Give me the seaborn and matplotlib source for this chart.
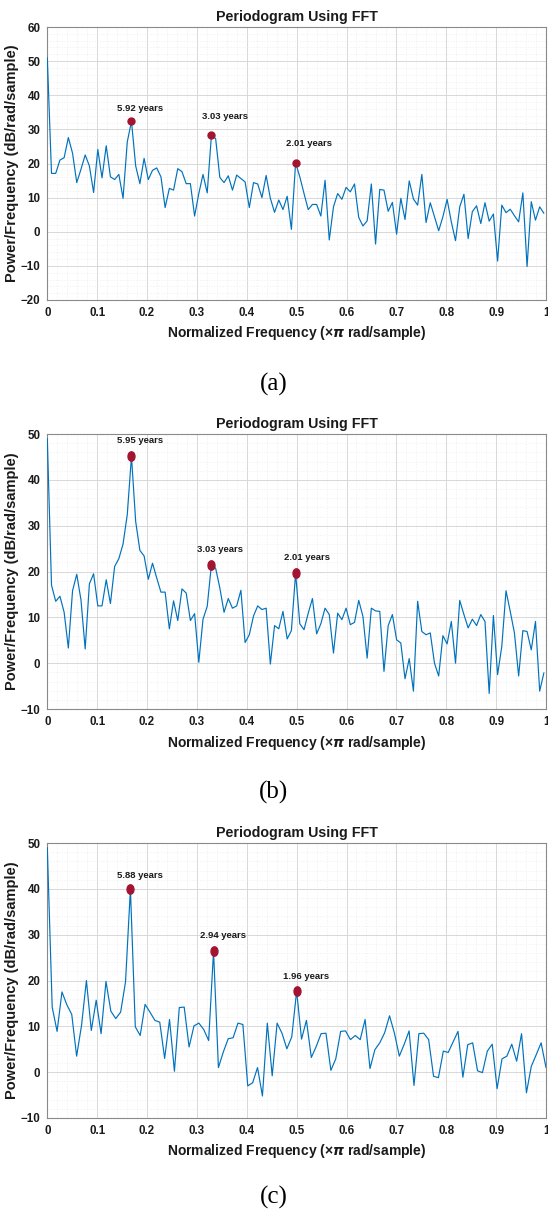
import numpy as np
import pandas as pd
import matplotlib
matplotlib.use("Agg")
import matplotlib.pyplot as plt
from matplotlib.markers import MarkerStyle
from matplotlib.transforms import Affine2D
from matplotlib.ticker import AutoMinorLocator, MultipleLocator
import seaborn as sns

# ---- periodogram data (dB/rad/sample) ----
psd_a = [51.0, 17.1, 17.1, 21.0, 21.7, 27.6, 23.0, 14.4, 18.3, 22.5,
         19.3, 11.5, 24.1, 15.8, 25.2, 16.1, 15.3, 16.8, 9.8, 26.3,
         32.4, 19.3, 14.1, 21.5, 15.3, 18.0, 18.7, 16.1, 7.1, 12.7,
         12.2, 18.5, 17.6, 14.1, 14.1, 4.6, 11.2, 16.8, 11.4, 28.3,
         27.3, 15.9, 14.4, 16.4, 12.2, 16.6, 15.6, 14.6, 7.1, 14.4,
         14.0, 10.0, 16.5, 9.8, 5.7, 9.3, 6.5, 10.4, 0.7, 20.2,
         16.1, 11.2, 6.5, 8.0, 8.0, 4.6, 15.1, -2.4, 7.3, 11.2,
         9.5, 13.0, 11.7, 14.0, 4.2, 1.7, 3.2, 14.0, -3.6, 12.4,
         12.2, 6.0, 8.6, -0.7, 9.8, 3.6, 14.9, 9.6, 7.8, 16.8,
         2.7, 8.5, 4.4, 0.3, 4.4, 9.5, 2.9, -2.6, 7.3, 11.0,
         -2.0, 5.9, 7.6, 2.4, 8.5, 3.1, 5.2, -8.6, 7.8, 5.6,
         6.6, 4.7, 2.9, 11.4, -10.2, 8.8, 3.4, 7.3, 5.4]

psd_b = [49.0, 17.0, 13.5, 14.6, 11.1, 3.3, 15.8, 19.4, 13.8, 3.1,
         17.3, 19.5, 12.5, 12.5, 18.2, 13.0, 21.1, 22.8, 26.0, 32.4,
         45.1, 30.9, 24.6, 23.4, 18.3, 21.8, 18.6, 15.5, 15.5, 7.5,
         13.6, 9.3, 16.2, 15.3, 9.3, 10.8, 0.2, 9.6, 12.4, 21.5,
         20.7, 16.4, 11.1, 14.1, 12.0, 12.5, 15.9, 4.5, 6.2, 10.3,
         12.5, 11.7, 12.0, -0.2, 8.2, 7.5, 11.3, 5.3, 7.1, 19.6,
         8.6, 7.3, 10.9, 14.1, 6.4, 8.6, 12.0, 10.6, 2.2, 10.9,
         9.5, 12.0, 8.4, 8.9, 13.7, 10.2, 1.1, 12.0, 11.4, 11.3,
         -1.8, 8.2, 10.6, 5.1, 4.4, -3.4, 1.0, -6.1, 13.5, 6.9,
         6.2, 6.6, 0.0, -2.8, 6.0, 4.2, 9.1, 0.0, 13.7, 10.6,
         7.7, 9.6, 8.2, 10.6, 9.1, -6.6, 10.4, -2.5, 3.7, 15.8,
         11.3, 6.6, -2.8, 7.1, 6.9, 2.9, 9.1, -6.1, -2.1]

psd_c = [49.0, 14.2, 8.9, 17.5, 14.7, 12.6, 3.5, 10.2, 20.0, 9.1,
         15.7, 8.4, 19.8, 13.3, 11.7, 13.1, 19.7, 40.0, 9.9, 8.0,
         14.8, 13.1, 11.3, 10.9, 3.0, 11.5, 0.2, 14.1, 14.2, 5.5,
         10.1, 10.7, 9.3, 6.9, 26.4, 1.0, 4.4, 7.3, 7.5, 10.7,
         10.4, -3.0, -2.3, 1.0, -5.2, 10.7, -0.8, 10.7, 8.5, 5.1,
         7.7, 17.7, 7.2, 11.3, 3.2, 5.6, 8.4, 8.5, 0.4, 2.9,
         8.9, 9.0, 7.1, 8.0, 7.1, 11.5, 0.8, 4.9, 6.4, 8.6,
         12.3, 8.5, 3.5, 6.1, 9.0, -2.9, 8.4, 8.5, 7.1, -0.9,
         -1.2, 4.6, 4.3, 6.6, 8.9, -1.1, 6.0, 6.4, 0.3, -0.1,
         4.6, 6.1, -3.6, 2.9, 3.5, 6.1, 2.4, 8.4, -4.5, 1.3,
         3.8, 6.4, 1.0]

# normalized frequency grids (x pi rad/sample)
freq_a = np.linspace(0, 118 / 118.5, len(psd_a))
freq_b = np.linspace(0, 118 / 118.5, len(psd_b))
freq_c = np.linspace(0, 1.0, len(psd_c))

# detected peaks: bin index and period label
peaks_a = [20, 39, 59]
peaks_b = [20, 39, 59]
peaks_c = [17, 34, 51]
labels_a = ["5.92 years", "3.03 years", "2.01 years"]
labels_b = ["5.95 years", "3.03 years", "2.01 years"]
labels_c = ["5.88 years", "2.94 years", "1.96 years"]

ylims = [(-20, 60), (-10, 50), (-10, 50)]
captions = ["(a)", "(b)", "(c)"]

sns.set_theme(style="whitegrid")
plt.rcParams["font.family"] = ["Liberation Sans", "DejaVu Sans"]
plt.rcParams["font.weight"] = "bold"
plt.rcParams["mathtext.fontset"] = "custom"
plt.rcParams["mathtext.rm"] = "Liberation Sans"

LINE = "#0072BD"
MARK = "#A2142F"

fig = plt.figure(figsize=(5.48, 12.13), dpi=100)
W, H = 548.0, 1213.0

# axes rectangles in pixels: left, top, right, bottom
rects = [(47.3, 27.0, 546.0, 300.0),
         (47.3, 434.0, 546.0, 709.0),
         (47.3, 843.0, 546.0, 1118.0)]
caption_y = [384.0, 792.0, 1197.0]

# label offsets (points) from each marker
offsets = [[(6, 6), (10, 10), (10, 11)],
           [(6, 8), (6, 8), (8, 8)],
           [(7, 6), (7, 8), (7, 7)]]

panels = [(freq_a, psd_a, peaks_a, labels_a),
          (freq_b, psd_b, peaks_b, labels_b),
          (freq_c, psd_c, peaks_c, labels_c)]

for k, ((f, p, pk, lb), (l, t, r, b)) in enumerate(zip(panels, rects)):
    ax = fig.add_axes([l / W, 1 - b / H, (r - l) / W, (b - t) / H])
    df = pd.DataFrame({"freq": f, "psd": p})
    sns.lineplot(data=df, x="freq", y="psd", ax=ax, color=LINE,
                 linewidth=0.85, zorder=3)

    mk = MarkerStyle("o")
    if k > 0:
        mk = MarkerStyle("o", transform=Affine2D().scale(1.0, 1.35))
    pf = [f[i] for i in pk]
    pv = [p[i] for i in pk]
    ax.plot(pf, pv, linestyle="none", marker=mk, markersize=5,
            markerfacecolor=MARK, markeredgecolor=MARK, zorder=4)
    for x0, y0, txt, off in zip(pf, pv, lb, offsets[k]):
        ax.annotate(txt, (x0, y0), xytext=off, textcoords="offset points",
                    ha="center", va="bottom", fontsize=6.8,
                    fontweight="bold", color="#1a1a1a", zorder=5)

    lo, hi = ylims[k]
    ax.set_xlim(0, 1)
    ax.set_ylim(lo, hi)
    ax.xaxis.set_major_locator(MultipleLocator(0.1))
    ax.yaxis.set_major_locator(MultipleLocator(10))
    ax.xaxis.set_minor_locator(AutoMinorLocator(5))
    ax.yaxis.set_minor_locator(AutoMinorLocator(5))
    ax.set_xticks(np.round(np.arange(0, 1.01, 0.1), 1))
    ax.set_xticklabels(["0", "0.1", "0.2", "0.3", "0.4", "0.5", "0.6",
                        "0.7", "0.8", "0.9", "1"])
    ax.grid(which="major", color="#d8d8d8", linewidth=0.7)
    ax.grid(which="minor", color="#eeeeee", linewidth=0.5,
            linestyle=(0, (2, 2)))
    ax.set_facecolor("white")
    for s in ax.spines.values():
        s.set_color("#8a8a8a")
        s.set_linewidth(0.8)
    ax.tick_params(which="major", direction="in", length=3, width=0.6,
                   color="#8a8a8a", labelsize=8.3, pad=5,
                   labelcolor="#1a1a1a")
    ax.tick_params(which="minor", length=0)
    for lab in ax.get_xticklabels() + ax.get_yticklabels():
        lab.set_fontweight("bold")
    ax.set_title("Periodogram Using FFT", fontsize=10.3, fontweight="bold",
                 pad=4, color="#1a1a1a")
    ax.set_xlabel(r"Normalized Frequency ($\times\pi$ rad/sample)",
                  fontsize=10, fontweight="bold", labelpad=4,
                  color="#1a1a1a")
    ax.set_ylabel("Power/Frequency (dB/rad/sample)", fontsize=10.5,
                  fontweight="bold", labelpad=1, color="#1a1a1a")

    fig.text(0.5, 1 - caption_y[k] / H, captions[k], ha="center",
             va="center", fontsize=18, fontweight="normal",
             family=["Liberation Serif", "DejaVu Serif"], color="black")

fig.savefig("out.png", dpi=100, facecolor="white")
